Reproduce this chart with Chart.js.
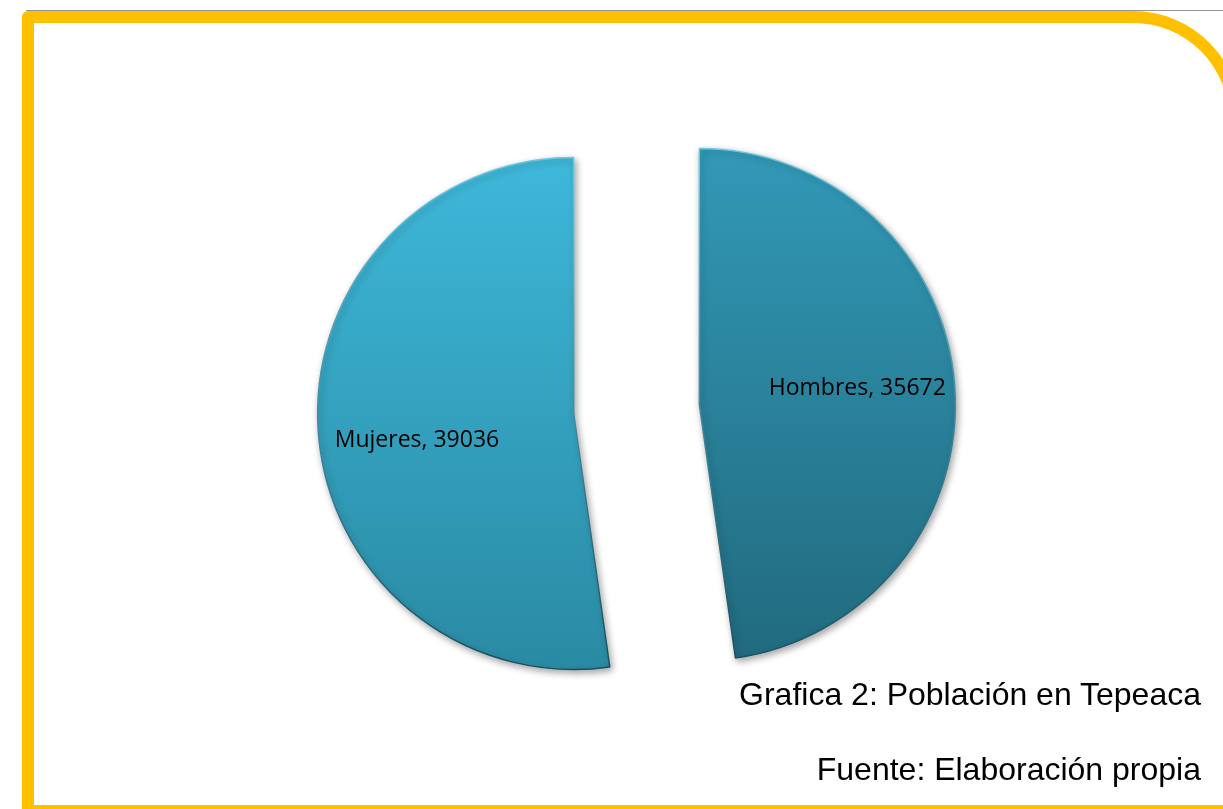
<!DOCTYPE html>
<html lang="es">
<head>
<meta charset="utf-8">
<title>Grafica 2: Población en Tepeaca</title>
<script src="https://cdn.jsdelivr.net/npm/chart.js@4/dist/chart.umd.min.js"></script>
<style>
  html, body { margin: 0; padding: 0; background: #fff; width: 1223px; height: 809px; overflow: hidden; }
  #raya { position: absolute; left: 26px; right: 0; top: 10px; height: 1px; background: #949494; }
  #marco {
    position: absolute; left: 22px; top: 11px; width: 1219px; height: 806px;
    box-sizing: border-box; border: 12px solid #FFC000; border-radius: 6px 108px 0 0;
  }
  #grafica { position: absolute; left: 0; top: 0; }
  .pie-texto {
    position: absolute; right: 22px; font-family: "Liberation Sans", Arial, sans-serif;
    font-size: 32px; line-height: 32px; color: #000; white-space: nowrap;
  }
</style>
</head>
<body>
<div id="raya"></div>
<div id="marco"></div>
<canvas id="grafica" width="1223" height="809"></canvas>
<div class="pie-texto" style="top:678px">Grafica 2: Población en Tepeaca</div>
<div class="pie-texto" style="top:753px">Fuente: Elaboración propia</div>

<script>
// datos de la grafica
const categorias = ['Hombres', 'Mujeres'];
const poblacion = [35672, 39036];

// estilo de cada rebanada (arriba / abajo del degradado)
const colorArriba = ['#3299B7', '#3EB8DA'];
const colorAbajo = ['#216A7E', '#2A8AA3'];

const RADIO = 256;          // radio del pastel
const SEPARACION = 63;      // cuanto se separa cada rebanada del centro

function degradado(chart, arriba, abajo) {
    const area = chart.chartArea;
    if (!area) return arriba;
    const cy = (area.top + area.bottom) / 2;
    const g = chart.ctx.createLinearGradient(0, cy - RADIO, 0, cy + RADIO);
    g.addColorStop(0, arriba);
    g.addColorStop(1, abajo);
    return g;
}

// dibuja las rebanadas separadas (pastel "explotado") con sombra
const explotar = {
    id: 'explotar',
    beforeDatasetDraw(chart, args) {
        const ctx = chart.ctx;
        args.meta.data.forEach(arc => {
            const mid = (arc.startAngle + arc.endAngle) / 2;
            ctx.save();
            ctx.translate(Math.cos(mid) * SEPARACION, Math.sin(mid) * SEPARACION);
            ctx.shadowColor = 'rgba(0, 0, 0, 0.35)';
            ctx.shadowBlur = 7;
            ctx.shadowOffsetX = 2;
            ctx.shadowOffsetY = 3;
            arc.draw(ctx);
            ctx.restore();
        });
        return false;
    },
    afterDatasetsDraw(chart) {
        const ctx = chart.ctx;
        const meta = chart.getDatasetMeta(0);
        ctx.save();
        ctx.font = '23px "Open Sans", "Noto Sans", sans-serif';
        ctx.fillStyle = '#000';
        ctx.textAlign = 'center';
        ctx.textBaseline = 'middle';
        meta.data.forEach((arc, i) => {
            // la etiqueta queda un poco girada en sentido antihorario respecto al centro de la rebanada
            const mid = (arc.startAngle + arc.endAngle) / 2 + (i === 0 ? -0.02 : -0.07);
            const d = SEPARACION + arc.outerRadius * 0.62;
            ctx.fillText(categorias[i] + ', ' + poblacion[i],
                arc.x + Math.cos(mid) * d, arc.y + Math.sin(mid) * d);
        });
        ctx.restore();
    }
};

new Chart(document.getElementById('grafica'), {
    type: 'pie',
    data: {
        labels: categorias,
        datasets: [{
            data: poblacion,
            radius: RADIO,
            backgroundColor: (c) => degradado(c.chart, colorArriba[c.dataIndex], colorAbajo[c.dataIndex]),
            borderColor: (c) => degradado(c.chart, '#6cc8e2', '#17505f'),
            borderWidth: 1.5
        }]
    },
    options: {
        responsive: false,
        animation: false,
        events: [],
        layout: {
            padding: { left: 286.5, right: 236.5, top: 59, bottom: 50 }
        },
        plugins: {
            legend: { display: false },
            tooltip: { enabled: false }
        }
    },
    plugins: [explotar]
});
</script>
</body>
</html>
